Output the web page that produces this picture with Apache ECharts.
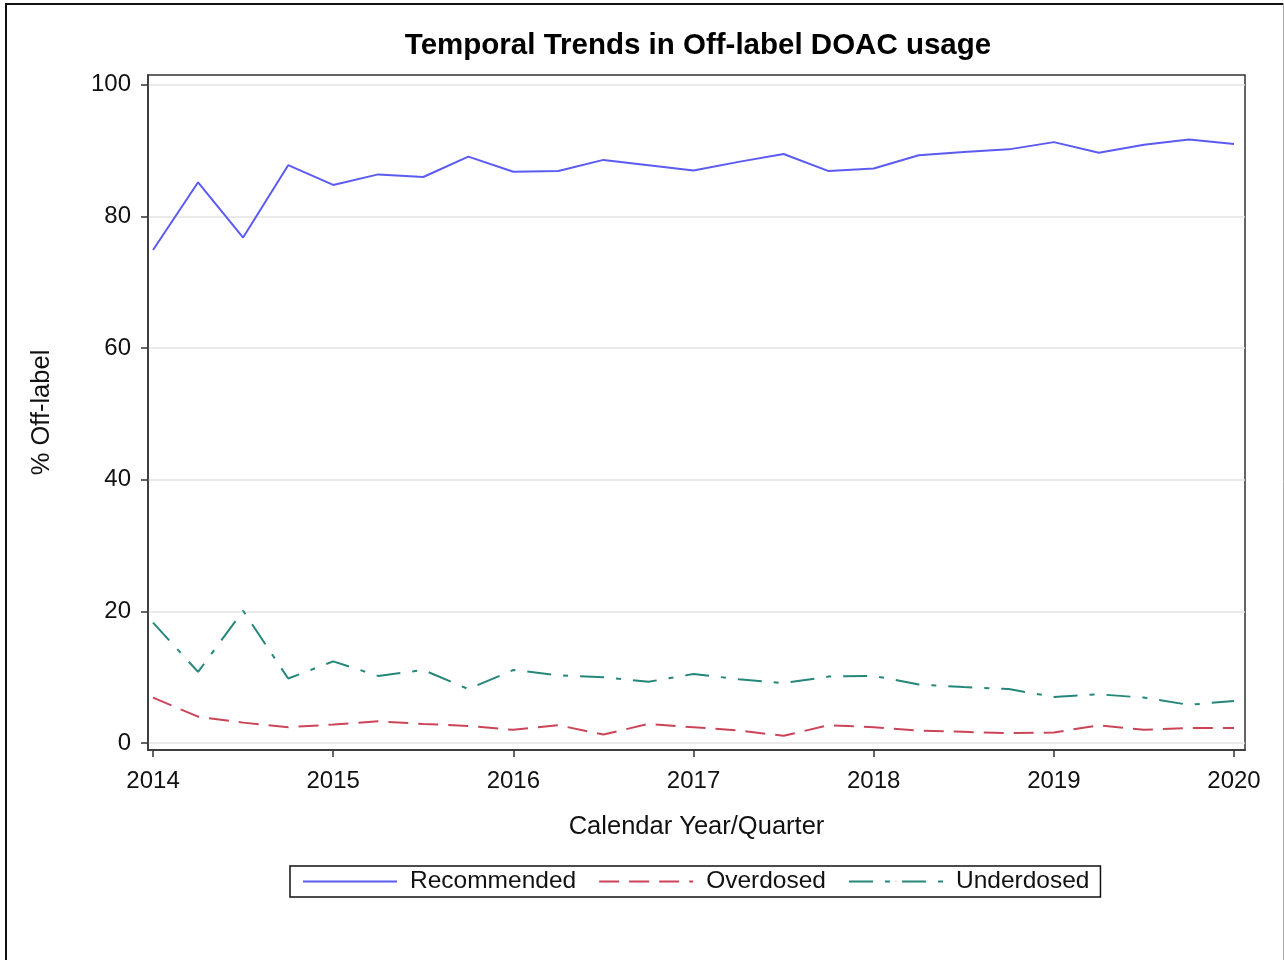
<!DOCTYPE html>
<html>
<head>
<meta charset="utf-8">
<script src="https://cdn.jsdelivr.net/npm/echarts@6/dist/echarts.min.js"></script>
<style>
html,body{margin:0;padding:0;background:#fff;}
#chart{width:1284px;height:960px;}
</style>
</head>
<body>
<div id="chart"></div>
<script>
// Quarterly time points (calendar year + quarter fraction)
const periods = [2014, 2014.25, 2014.5, 2014.75, 2015, 2015.25, 2015.5, 2015.75,
  2016, 2016.25, 2016.5, 2016.75, 2017, 2017.25, 2017.5, 2017.75,
  2018, 2018.25, 2018.5, 2018.75, 2019, 2019.25, 2019.5, 2019.75, 2020];
const recommended = [74.9, 85.2, 76.8, 87.8, 84.8, 86.4, 86.0, 89.1,
  86.8, 86.9, 88.6, 87.8, 87.0, 88.3, 89.5, 86.9,
  87.3, 89.3, 89.8, 90.2, 91.3, 89.7, 90.9, 91.7, 91.0];
const overdosed = [6.9, 4.0, 3.1, 2.4, 2.8, 3.3, 2.9, 2.6,
  2.0, 2.7, 1.3, 2.9, 2.4, 1.9, 1.1, 2.7,
  2.4, 1.9, 1.7, 1.5, 1.6, 2.7, 2.0, 2.3, 2.3];
const underdosed = [18.3, 10.8, 20.1, 9.8, 12.4, 10.2, 11.1, 8.2,
  11.1, 10.3, 10.0, 9.3, 10.5, 9.7, 9.1, 10.1,
  10.2, 8.9, 8.5, 8.2, 7.0, 7.4, 6.9, 5.8, 6.4];
const xTicks = [2014, 2015, 2016, 2017, 2018, 2019, 2020];
const yTicks = [0, 20, 40, 60, 80, 100];
const seriesNames = ['Recommended', 'Overdosed', 'Underdosed'];

const FONT = '"Liberation Sans", Arial, sans-serif';
const pair = arr => periods.map((p, i) => [p, arr[i]]);

const chart = echarts.init(document.getElementById('chart'), null, {renderer: 'canvas'});
chart.setOption({
  backgroundColor: '#ffffff',
  animation: false,
  textStyle: {fontFamily: FONT},
  title: {
    text: 'Temporal Trends in Off-label DOAC usage',
    left: 693, top: 26, textAlign: 'center',
    textStyle: {fontFamily: FONT, fontSize: 29.5, fontWeight: 'bold', color: '#000'}
  },
  grid: {left: 148, right: 39, top: 75, bottom: 210, show: true, borderColor: '#333', borderWidth: 1.5, backgroundColor: 'transparent'},
  xAxis: {
    type: 'value', min: 2013.972, max: 2020.061,
    name: 'Calendar Year/Quarter', nameLocation: 'middle', nameGap: 64,
    nameTextStyle: {fontFamily: FONT, fontSize: 25.5, color: '#111'},
    axisLine: {show: true, onZero: false, lineStyle: {color: '#333', width: 1.5}},
    axisTick: {show: true, length: 7, customValues: xTicks, lineStyle: {color: '#333', width: 1.5}},
    axisLabel: {customValues: xTicks, margin: 19, fontSize: 24, color: '#111', fontFamily: FONT,
      formatter: v => String(Math.round(v))},
    splitLine: {show: false}
  },
  yAxis: {
    type: 'value', min: -1.06, max: 101.5,
    name: '% Off-label', nameLocation: 'middle', nameGap: 93,
    nameTextStyle: {fontFamily: FONT, fontSize: 25.5, color: '#111'},
    axisLine: {show: true, onZero: false, lineStyle: {color: '#333', width: 1.5}},
    axisTick: {show: true, length: 7, customValues: yTicks, lineStyle: {color: '#333', width: 1.5}},
    axisLabel: {customValues: yTicks, margin: 17, fontSize: 24, color: '#111', fontFamily: FONT,
      formatter: v => String(Math.round(v))},
    splitLine: {show: true, lineStyle: {color: '#e3e3e3', width: 1.5}}
  },
  legend: {
    left: 290, top: 866,
    data: seriesNames,
    itemWidth: 94, itemHeight: 1, itemGap: 22,
    padding: [3, 11, 3, 12],
    borderColor: '#111', borderWidth: 1.5,
    textStyle: {fontFamily: FONT, fontSize: 24.5, color: '#111', padding: [0, 0, 0, 8]}
  },
  series: [
    {name: seriesNames[0], type: 'line', data: pair(recommended), symbol: 'none',
      lineStyle: {color: '#5b5bf2', width: 2, type: 'solid'}, itemStyle: {color: '#5b5bf2'}},
    {name: seriesNames[1], type: 'line', data: pair(overdosed), symbol: 'none',
      lineStyle: {color: '#cc4458', width: 2, type: [20, 10]}, itemStyle: {color: '#cc4458'}},
    {name: seriesNames[2], type: 'line', data: pair(underdosed), symbol: 'none',
      lineStyle: {color: '#25877a', width: 2, type: [24, 12, 5, 12]}, itemStyle: {color: '#25877a'}}
  ],
  graphic: [
    {type: 'line', shape: {x1: 6, y1: 3, x2: 6, y2: 960}, style: {stroke: '#111', lineWidth: 2}},
    {type: 'line', shape: {x1: 5, y1: 4, x2: 1284, y2: 4}, style: {stroke: '#111', lineWidth: 2}},
    {type: 'line', shape: {x1: 1283.5, y1: 3, x2: 1283.5, y2: 960}, style: {stroke: '#aaa', lineWidth: 1}}
  ]
});
</script>
</body>
</html>
